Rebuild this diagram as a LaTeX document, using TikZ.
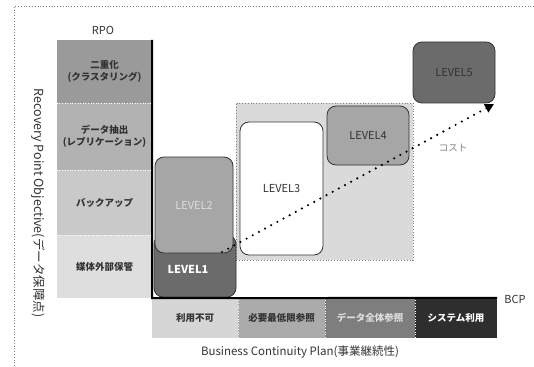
\documentclass[tikz,border=0pt]{standalone}
\usepackage{fontspec}
\setmainfont{Noto Sans CJK JP}
\usetikzlibrary{arrows.meta}
\definecolor{rpoA}{HTML}{9A9A9A}
\definecolor{rpoB}{HTML}{B2B2B2}
\definecolor{rpoC}{HTML}{C9C9C9}
\definecolor{rpoD}{HTML}{DEDEDE}
\definecolor{bcpA}{HTML}{D6D6D6}
\definecolor{bcpB}{HTML}{ABABAB}
\definecolor{bcpC}{HTML}{7E7E7E}
\definecolor{bcpD}{HTML}{2E2E2E}
\definecolor{lvDark}{HTML}{6B6B6B}
\definecolor{lvMid}{HTML}{A6A6A6}
\definecolor{regionGray}{HTML}{DADADA}
\definecolor{txtDark}{HTML}{333333}
\tikzset{
  cell/.style={draw=none, inner sep=0pt, align=center, font=\bfseries\fontsize{9.5}{11.5}\selectfont, text=txtDark},
  lvbox/.style={draw=txtDark, line width=0.8pt, rounded corners=9pt, inner sep=0pt, font=\fontsize{11}{12}\selectfont},
  axisline/.style={line width=2pt, black},
  lbl/.style={font=\fontsize{10}{11}\selectfont, text=txtDark, inner sep=0pt},
}
\begin{document}
\begin{tikzpicture}[x=1pt,y=-1pt]
\useasboundingbox (0,0) rectangle (534,366);
\fill[white] (0,0) rectangle (534,366);
% outer dotted frame
\draw[gray, dotted, line width=0.8pt] (14,366) -- (14,6) -- (534,6);
% RPO column
\node[cell, fill=rpoA, minimum width=95pt, minimum height=63pt] (r1) at (104.5,71.5) {二重化\\(クラスタリング)};
\node[cell, fill=rpoB, minimum width=95pt, minimum height=67pt] (r2) at (104.5,136.5) {データ抽出\\(レプリケーション)};
\node[cell, fill=rpoC, minimum width=95pt, minimum height=65pt] (r3) at (104.5,202.5) {バックアップ};
\node[cell, fill=rpoD, minimum width=95pt, minimum height=63pt] (r4) at (104.5,266.5) {媒体外部保管};
\draw[white, line width=0.6pt, dotted] (r1.south west) -- (r1.south east);
\draw[white, line width=0.6pt, dotted] (r2.south west) -- (r2.south east);
\draw[white, line width=0.6pt, dotted] (r3.south west) -- (r3.south east);
\node[lbl, font=\fontsize{11}{12}\selectfont] (rpo) at (103,30) {RPO};
\node[lbl, rotate=-90, font=\fontsize{12.5}{13}\selectfont] (rpoax) at (38,203) {Recovery Point Objective(データ保障点)};
% gray region
\node[draw=gray, dotted, line width=0.8pt, fill=regionGray, minimum width=177pt, minimum height=157pt, inner sep=0pt] (reg) at (324.5,181.5) {};
% BCP row
\node[cell, fill=bcpA, minimum width=86pt, minimum height=40pt] (b1) at (195,318) {利用不可};
\node[cell, fill=bcpB, minimum width=87pt, minimum height=40pt] (b2) at (281.5,318) {必要最低限参照};
\node[cell, fill=bcpC, minimum width=90pt, minimum height=40pt, text=rpoD] (b3) at (370,318) {データ全体参照};
\node[cell, fill=bcpD, minimum width=82pt, minimum height=40pt, text=white] (b4) at (456,318) {システム利用};
\draw[white, line width=0.6pt, dotted] (b1.north east) -- (b1.south east);
\draw[white, line width=0.6pt, dotted] (b2.north east) -- (b2.south east);
\draw[white, line width=0.6pt, dotted] (b3.north east) -- (b3.south east);
\node[lbl, font=\fontsize{11}{12}\selectfont] (bcp) at (515,299) {BCP};
\node[lbl, font=\fontsize{11.5}{12}\selectfont] (bcpax) at (300,352) {Business Continuity Plan(事業継続性)};
% levels
\node[lvbox, fill=lvDark, text=white, minimum width=82pt, minimum height=62pt] (l1) at (195,266) {};
\node[lvbox, fill=lvMid, text=rpoD, minimum width=78pt, minimum height=96pt] (l2) at (194,205) {LEVEL2};
\node[text=white, font=\bfseries\fontsize{11}{12}\selectfont, inner sep=0pt] (l1t) at (188,269) {LEVEL1};
\node[lvbox, fill=white, text=txtDark, minimum width=83pt, minimum height=133pt] (l3) at (281.5,188.5) {LEVEL3};
\node[lvbox, fill=lvMid, text=txtDark, minimum width=82pt, minimum height=59pt] (l4) at (368,135.5) {LEVEL4};
\node[lvbox, fill=lvDark, text=txtDark, minimum width=82pt, minimum height=61pt] (l5) at (454,72.5) {LEVEL5};
% axes
\draw[axisline] (r1.north east) -- (r4.south east) -- (b4.north east);
% cost arrow
\coordinate (cs) at (222,252);
\coordinate (ce) at (494,104);
\draw[black, line width=2.4pt, line cap=round, dash pattern=on 0pt off 7pt, -{Triangle[length=9pt,width=9pt]}] (cs) -- (ce);
\node[lbl, font=\fontsize{9.5}{10}\selectfont, text=gray] (cost) at (453,148) {コスト};
\end{tikzpicture}
\end{document}
